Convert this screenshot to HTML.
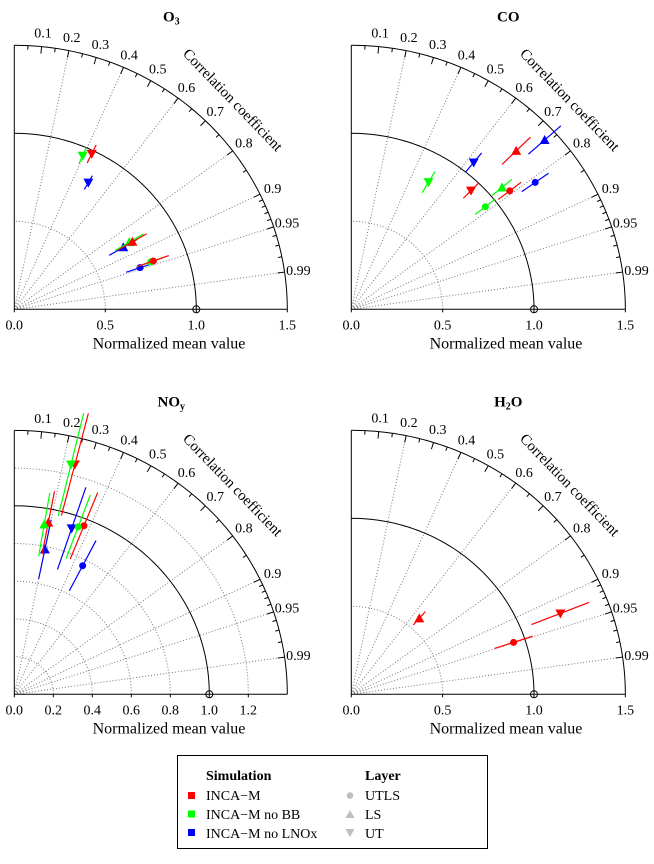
<!DOCTYPE html>
<html><head><meta charset="utf-8"><style>
html,body{margin:0;padding:0;background:#fff;}
svg, svg text, svg tspan{font-family:"Liberation Serif","Times New Roman",Times,"DejaVu Serif",serif !important;}
</style></head><body>
<svg id="chart" width="654" height="859" viewBox="0 0 654 859" xmlns="http://www.w3.org/2000/svg">
<g id="panels"></g>
<g>
<rect x="177.5" y="755.5" width="310" height="93" fill="#fff" stroke="#000" stroke-width="1"/>
<text x="206" y="780" font-size="14" font-weight="bold">Simulation</text>
<text x="365" y="780" font-size="14" font-weight="bold">Layer</text>
<rect x="188" y="792" width="7" height="7" fill="#ff0000"/>
<text x="206" y="800" font-size="14">INCA−M</text>
<rect x="188" y="810.5" width="7" height="7" fill="#00ff00"/>
<text x="206" y="819" font-size="14">INCA−M no BB</text>
<rect x="188" y="829" width="7" height="7" fill="#0000ff"/>
<text x="206" y="838" font-size="14">INCA−M no LNOx</text>
<circle cx="350" cy="795.5" r="3.3" fill="#bebebe"/>
<text x="365" y="800" font-size="14">UTLS</text>
<polygon points="345.5,818 354.5,818 350,810" fill="#bebebe"/>
<text x="365" y="819" font-size="14">LS</text>
<polygon points="345.5,829 354.5,829 350,837" fill="#bebebe"/>
<text x="365" y="838" font-size="14">UT</text>
</g>
</svg>
<script>
// ---- data (simulation index: 0=INCA-M red, 1=no BB green, 2=no LNOx blue; layer: 0=UTLS,1=LS,2=UT)
const o3Sim   = [2,2,2,1,1,1,0,0,0];
const o3Layer = [0,1,2,0,1,2,0,1,2];
const o3Norm  = [0.73,0.695,0.827,0.796,0.738,0.95,0.812,0.754,0.98];
const o3Corr  = [0.946,0.862,0.492,0.941,0.856,0.395,0.941,0.861,0.434];
const o3Err   = [0.08,0.09,0.045,0.08,0.09,0.05,0.09,0.09,0.057];

const coSim   = [2,2,2,1,1,1,0,0,0];
const coLayer = [0,1,2,0,1,2,0,1,2];
const coNorm  = [1.238,1.43,1.07,0.937,1.077,0.837,1.098,1.275,0.94];
const coCorr  = [0.813,0.74,0.626,0.783,0.766,0.505,0.79,0.708,0.697];
const coErr   = [0.09,0.12,0.07,0.07,0.07,0.07,0.08,0.11,0.06];

const noySim   = [2,2,2,0,0,0,1,1,1];
const noyLayer = [0,1,2,0,1,2,0,1,2];
const noyNorm  = [0.767,0.785,0.928,0.963,0.927,1.258,0.947,0.914,1.253];
const noyCorr  = [0.457,0.2,0.317,0.371,0.188,0.247,0.346,0.168,0.232];
const noyErr   = [0.15,0.16,0.23,0.19,0.17,0.28,0.18,0.17,0.28];

const h2oSim   = [0,0,0];
const h2oLayer = [0,1,2];
const h2oNorm  = [0.936,0.57,1.233];
const h2oCorr  = [0.949,0.653,0.928];
const h2oErr   = [0.11,0.05,0.17];

const simColors = ['#ff0000','#00ff00','#0000ff'];
const simNames = ['inca-m','no-bb','no-lnox'];
const layerNames = ['utls','ls','ut'];
const corrLabels = ['0.1','0.2','0.3','0.4','0.5','0.6','0.7','0.8','0.9','0.95','0.99'];
const corrGrid = [0.2,0.4,0.6,0.8,0.9,0.95,0.99];

const NS='http://www.w3.org/2000/svg';
const root=document.getElementById('panels');
function mk(tag,attrs,parent){const e=document.createElementNS(NS,tag);for(const k in attrs)e.setAttribute(k,attrs[k]);(parent||root).appendChild(e);return e;}

const panels=[
 {key:'o3',title:['O','3'],ox:14.3,oy:309.3,sx:182,sy:176,rmax:1.5,xt:[0,0.5,1,1.5],xtl:['0.0','0.5','1.0','1.5'],arcs:[0.5],
  sim:o3Sim,layer:o3Layer,norm:o3Norm,corr:o3Corr,err:o3Err},
 {key:'co',title:['CO',''],ox:351.3,oy:309.3,sx:182.7,sy:176,rmax:1.5,xt:[0,0.5,1,1.5],xtl:['0.0','0.5','1.0','1.5'],arcs:[0.5],
  sim:coSim,layer:coLayer,norm:coNorm,corr:coCorr,err:coErr},
 {key:'noy',title:['NO','y'],ox:14.3,oy:694.3,sx:195,sy:188.5,rmax:1.4,xt:[0,0.2,0.4,0.6,0.8,1,1.2],xtl:['0.0','0.2','0.4','0.6','0.8','1.0','1.2'],arcs:[0.2,0.4,0.6,0.8,1.2],
  sim:noySim,layer:noyLayer,norm:noyNorm,corr:noyCorr,err:noyErr},
 {key:'h2o',title:['H','2','O'],ox:351.3,oy:694.3,sx:182.7,sy:176,rmax:1.5,xt:[0,0.5,1,1.5],xtl:['0.0','0.5','1.0','1.5'],arcs:[0.5],
  sim:h2oSim,layer:h2oLayer,norm:h2oNorm,corr:h2oCorr,err:h2oErr}
];

panels.forEach(p=>{
 const g=mk('g',{});
 
 
 const X=(r,c)=>p.ox+r*c*p.sx;
 const Y=(r,c)=>p.oy-r*Math.sqrt(Math.max(0,1-c*c))*p.sy;
 function arcPath(r){let d='';for(let i=0;i<=90;i++){const a=i*Math.PI/180;const c=Math.cos(a);d+=(i?'L':'M')+X(r,c).toFixed(2)+','+Y(r,c).toFixed(2);}return d;}
 p.arcs.forEach(r=>{const e=mk('path',{d:arcPath(r),fill:'none',stroke:'#777','stroke-width':1,'stroke-dasharray':'1,2'},g);
  });
 corrGrid.forEach(c=>{const e=mk('line',{x1:p.ox,y1:p.oy,x2:X(p.rmax,c),y2:Y(p.rmax,c),stroke:'#777','stroke-width':1,'stroke-dasharray':'1,2'},g);
  });
 let e=mk('path',{d:arcPath(1),fill:'none',stroke:'#000','stroke-width':1},g);
 
 e=mk('path',{d:arcPath(p.rmax),fill:'none',stroke:'#000','stroke-width':1},g);
 
 e=mk('line',{x1:p.ox,y1:p.oy,x2:p.ox,y2:p.oy-p.rmax*p.sy,stroke:'#000','stroke-width':1},g);
 
 e=mk('line',{x1:p.ox,y1:p.oy,x2:p.ox+p.rmax*p.sx,y2:p.oy,stroke:'#000','stroke-width':1},g);
 
 p.xt.forEach((v,i)=>{
  const t=mk('line',{x1:p.ox+v*p.sx,y1:p.oy,x2:p.ox+v*p.sx,y2:p.oy+3,stroke:'#000'},g);
  
  const l=mk('text',{x:p.ox+v*p.sx,y:p.oy+20,'font-size':14,'text-anchor':'middle'},g);
  l.textContent=p.xtl[i];
  
 });
 e=mk('text',{x:p.ox+0.85*182,y:p.oy+39,'font-size':16,'text-anchor':'middle'},g);
 e.textContent='Normalized mean value';
 
 e=mk('circle',{cx:X(1,1),cy:p.oy,r:3.5,fill:'none',stroke:'#000'},g);
 
 const R=p.rmax;
 function tick(c,len){const a=Math.acos(c);const x1=X(R,c),y1=Y(R,c);
  const t=mk('line',{x1:x1,y1:y1,x2:x1-len*Math.cos(a),y2:y1+len*Math.sin(a),stroke:'#000'},g);
  }
 for(let k=1;k<=9;k++)tick(k/10,7);
 tick(0.95,7);tick(0.99,7);
 for(let k=0;k<9;k++)tick(0.05+k/10,4);
 for(let k=1;k<=8;k++)if(k!==5)tick(0.9+k/100,4);
 corrLabels.forEach(s=>{const c=parseFloat(s);const a=Math.acos(c);
  const l=mk('text',{x:X(R,c)+14*Math.cos(a),y:Y(R,c)-14*Math.sin(a)+5,'font-size':14,'text-anchor':'middle'},g);
  l.textContent=s;});
 e=mk('text',{x:0,y:0,'font-size':15,'text-anchor':'middle',transform:'translate('+(p.ox+215)+','+(p.oy-p.rmax*p.sy+58)+') rotate(46)'},g);
 e.textContent='Correlation coefficient';
 
 const tt=mk('text',{x:p.ox+157,y:p.oy-p.rmax*p.sy-24,'font-size':15,'font-weight':'bold','text-anchor':'middle'},g);
 
 tt.appendChild(document.createTextNode(p.title[0]));
 if(p.title[1]){const ts=mk('tspan',{'font-size':10,dy:3},tt);ts.textContent=p.title[1];}
 if(p.title[2]){const ts=mk('tspan',{dy:-3},tt);ts.textContent=p.title[2];}
 p.norm.forEach((r,i)=>{
  const c=p.corr[i],col=simColors[p.sim[i]],er=p.err[i];
  const b=mk('line',{x1:X(r-er,c),y1:Y(r-er,c),x2:X(r+er,c),y2:Y(r+er,c),stroke:col,'stroke-width':1.2},g);
  
  
  const cx=X(r,c),cy=Y(r,c);let m;
  if(p.layer[i]===0)m=mk('circle',{cx:cx,cy:cy,r:3.5,fill:col},g);
  else if(p.layer[i]===1)m=mk('polygon',{points:(cx-5)+','+(cy+4)+' '+(cx+5)+','+(cy+4)+' '+cx+','+(cy-5),fill:col},g);
  else m=mk('polygon',{points:(cx-5)+','+(cy-4)+' '+(cx+5)+','+(cy-4)+' '+cx+','+(cy+5),fill:col},g);
  
  
 });
});
</script>
</body></html>
